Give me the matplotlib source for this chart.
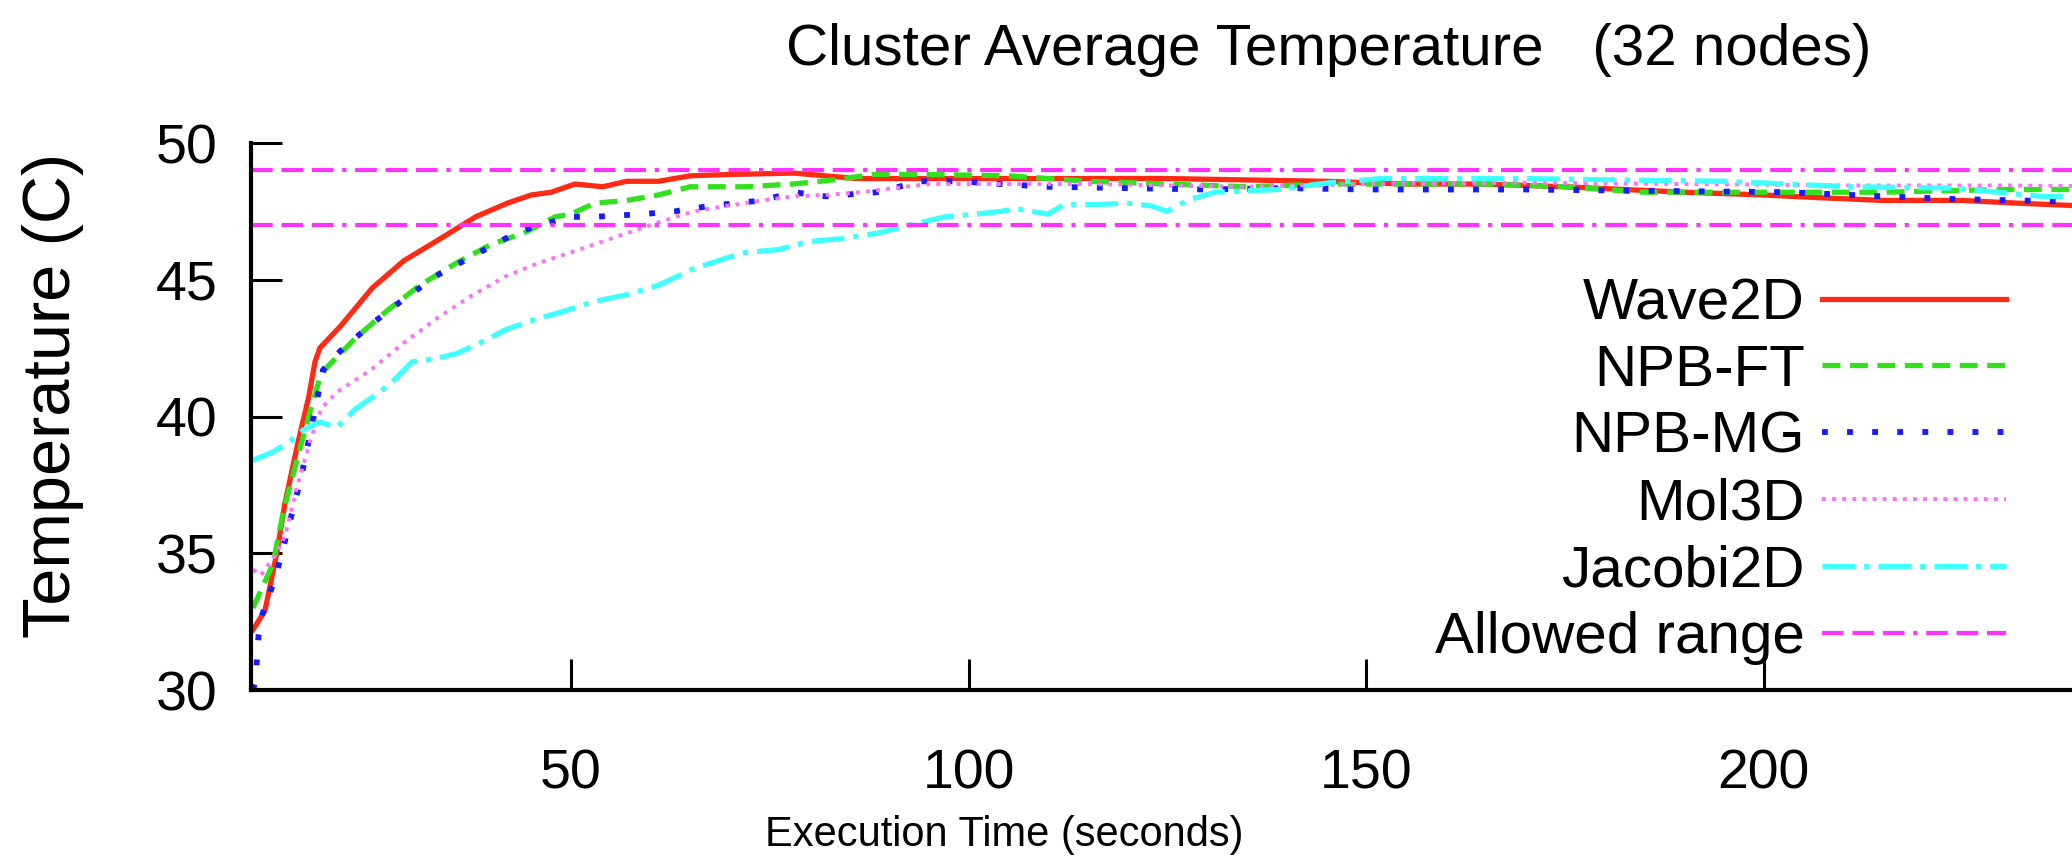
import matplotlib
matplotlib.use('Agg')
import matplotlib.pyplot as plt

plt.rcParams['font.family'] = ['Liberation Sans', 'DejaVu Sans']

# Tempo (s) e temperatura média (C) de cada aplicação
t_wave = [10, 11.5, 13, 14, 15.7, 17, 17.8, 18.4, 21, 25, 29, 33, 38, 42, 45, 47.5, 50.5, 54, 57, 61, 65,
          70, 78, 86, 95, 105, 115, 125, 135, 145, 155, 165, 175, 190, 200, 207, 215, 225, 232, 240, 250]
temp_wave = [32.2, 32.9, 35.0, 36.8, 39.1, 40.7, 42.0, 42.5, 43.3, 44.7, 45.7, 46.4, 47.3, 47.8, 48.1, 48.2,
             48.5, 48.4, 48.6, 48.6, 48.8, 48.85, 48.9, 48.7, 48.7, 48.7, 48.7, 48.7, 48.65, 48.6, 48.5,
             48.5, 48.4, 48.2, 48.1, 48.0, 47.9, 47.9, 47.8, 47.7, 47.6]

t_ft = [10, 12.5, 13.8, 15.7, 17.4, 18.4, 19.3, 23, 27, 31, 35.5, 40, 44, 48, 50, 53, 57, 61, 65, 72, 78,
        83, 88, 95, 105, 115, 125, 135, 145, 155, 165, 175, 185, 200, 215, 230, 240, 250]
temp_ft = [33.0, 34.6, 36.5, 38.6, 40.4, 41.4, 41.8, 42.9, 43.9, 44.8, 45.6, 46.3, 46.7, 47.3, 47.4, 47.8,
           47.9, 48.1, 48.4, 48.4, 48.5, 48.65, 48.85, 48.85, 48.8, 48.6, 48.5, 48.4, 48.5, 48.5, 48.5,
           48.4, 48.2, 48.2, 48.2, 48.3, 48.3, 48.3]

t_mg = [10, 10.3, 10.7, 11.1, 12.2, 13, 14.5, 16, 17.3, 18.8, 21, 25, 29, 33.4, 38.5, 43, 46, 50, 53, 59,
        63, 67.5, 74, 78, 82, 88.5, 94, 99, 104, 110, 120, 130, 140, 150, 160, 170, 186, 203, 215, 224,
        232, 240, 250]
temp_mg = [30.0, 30.3, 32.0, 32.7, 33.6, 34.3, 36.0, 37.7, 39.5, 41.7, 42.4, 43.4, 44.3, 45.2, 46.0, 46.7,
           47.0, 47.3, 47.3, 47.4, 47.5, 47.7, 47.9, 48.2, 48.05, 48.2, 48.6, 48.6, 48.5, 48.4, 48.35,
           48.3, 48.35, 48.3, 48.3, 48.3, 48.25, 48.2, 48.05, 47.95, 47.9, 47.85, 47.8]

t_mol = [10, 11, 12.5, 14, 15.7, 17.3, 18.6, 20.6, 24.8, 29, 33.2, 37.4, 41.6, 45.8, 50, 53, 57, 61, 65.4,
         69.6, 74, 78, 82, 86.4, 90.6, 95, 105, 115, 125, 135, 150, 170, 190, 210, 230, 250]
temp_mol = [34.4, 34.2, 34.8, 35.6, 37.6, 39.2, 40.3, 40.9, 41.7, 42.7, 43.6, 44.4, 45.1, 45.6, 46.0, 46.3,
            46.7, 47.1, 47.5, 47.7, 47.9, 48.05, 48.1, 48.2, 48.35, 48.5, 48.5, 48.5, 48.45, 48.4, 48.5,
            48.55, 48.5, 48.45, 48.45, 48.4]

t_jac = [10, 12.5, 14.7, 16.3, 18.4, 20.5, 23, 26, 28, 30, 32.7, 35.6, 38.6, 42, 46, 48.6, 52.8, 57, 61,
         65.4, 69.6, 72, 76, 80, 84, 88.5, 92.7, 97, 101, 104, 106, 110, 112, 116, 120, 123, 125, 127.5,
         131, 135, 139, 145.5, 152, 160, 170, 182, 195, 211, 224, 235, 250]
temp_jac = [38.4, 38.7, 39.1, 39.5, 39.8, 39.6, 40.3, 40.9, 41.4, 42.0, 42.1, 42.3, 42.7, 43.2, 43.6, 43.8,
            44.2, 44.45, 44.8, 45.4, 45.8, 46.0, 46.1, 46.4, 46.5, 46.7, 47.0, 47.3, 47.4, 47.5, 47.6,
            47.4, 47.75, 47.75, 47.8, 47.7, 47.5, 47.9, 48.2, 48.25, 48.3, 48.55, 48.7, 48.7, 48.7,
            48.65, 48.6, 48.4, 48.35, 48.05, 48.0]

# Faixa permitida
faixa = [47, 49]

fig = plt.figure(figsize=(20.72, 8.63), dpi=100)
ax = fig.add_axes([251 / 2072, 1 - 690 / 863, 1 - 251 / 2072, (690 - 143) / 863])

ax.plot(t_wave, temp_wave, color='#ff2a14', lw=3.8, label='Wave2D')
ax.plot(t_ft, temp_ft, color='#33e01e', lw=3.8, ls=(0, (3.4, 1.8)), label='NPB-FT')
ax.plot(t_mg, temp_mg, color='#1a1aff', lw=4.2, ls=(0, (1, 3.3)), label='NPB-MG')
ax.plot(t_mol, temp_mol, color='#ff70ff', lw=2.8, ls=(0, (1, 1.6)), label='Mol3D')
ax.plot(t_jac, temp_jac, color='#40ffff', lw=3.8, ls=(0, (6.2, 1.7, 1, 1.7)), label='Jacobi2D')
for i, y in enumerate(faixa):
    ax.axhline(y, color='#ff33ff', lw=3, ls=(0, (5.2, 2.1, 5.2, 2.1, 5.2, 2.1, 1, 2.1)),
               label='Allowed range' if i == 0 else None)

ax.set_xlim(9.75, 238.8)
ax.set_ylim(30, 50)
ax.set_xticks([50, 100, 150, 200])
ax.set_yticks([30, 35, 40, 45, 50])

ax.spines['top'].set_visible(False)
ax.spines['right'].set_visible(False)
ax.spines['left'].set_linewidth(3)
ax.spines['bottom'].set_linewidth(3)
ax.tick_params(axis='both', direction='in', length=22, width=2.2, labelsize=40)
ax.tick_params(axis='y', pad=24)
ax.tick_params(axis='x', pad=42)

handles, labels = ax.get_legend_handles_labels()
ax.legend(handles, labels, loc='upper right', bbox_to_anchor=(2006 / 2072, 1 - 277 / 863),
          bbox_transform=fig.transFigure, frameon=False, markerfirst=False, fontsize=42,
          handlelength=3.15, handletextpad=0.3, labelspacing=0.22, borderpad=0, borderaxespad=0)

fig.text(1329 / 2072, 1 - 50 / 863, 'Cluster Average Temperature   (32 nodes)',
         ha='center', va='center', fontsize=42)
fig.text(1004 / 2072, 1 - 835 / 863, 'Execution Time (seconds)', ha='center', va='center', fontsize=30)
fig.text(53 / 2072, 1 - 395 / 863, 'Temperature (C)', rotation=90, ha='center', va='center', fontsize=48)

fig.savefig('out.png', dpi=100)
